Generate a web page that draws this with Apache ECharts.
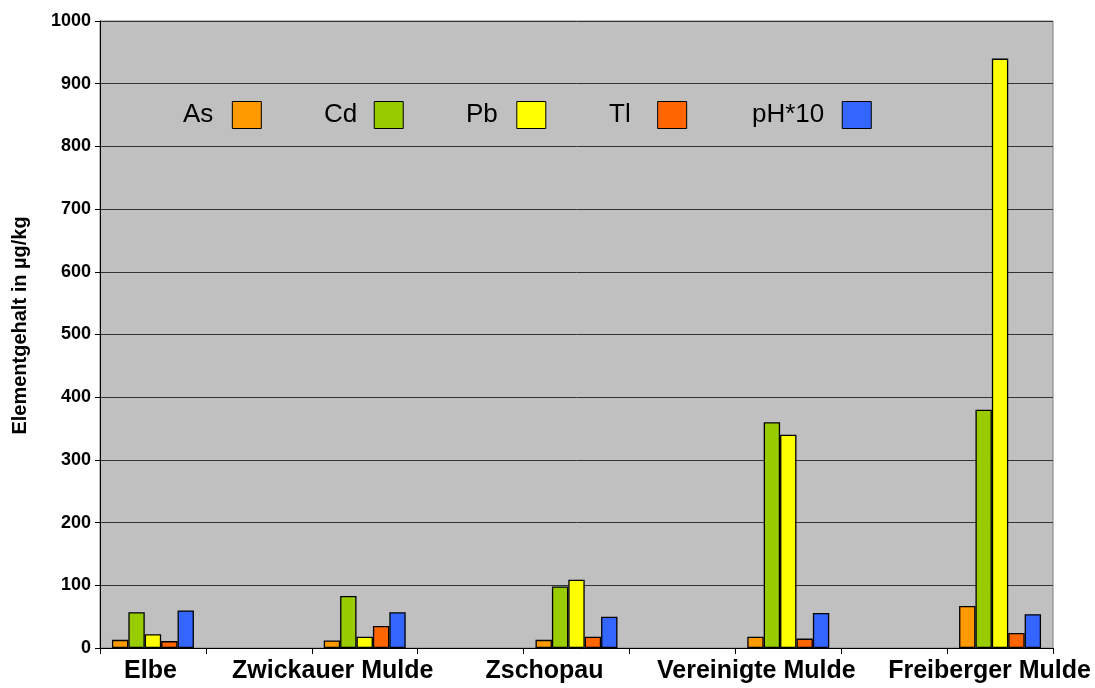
<!DOCTYPE html>
<html>
<head>
<meta charset="utf-8">
<script src="https://cdn.jsdelivr.net/npm/echarts@6/dist/echarts.min.js"></script>
<style>
  html, body { margin: 0; padding: 0; background: #fff; }
  #chart { width: 1095px; height: 688px; }
</style>
</head>
<body>
<div id="chart"></div>
<script>
// Sampling sites (empty slots keep the spacing between the groups)
const categories = ['Elbe', '', 'Zwickauer Mulde', '', 'Zschopau', '', 'Vereinigte Mulde', '', 'Freiberger Mulde'];

// Element contents in µg/kg per site (null = empty slot)
const asValues = [13, null, 12, null, 13, null, 18, null, 67];
const cdValues = [57, null, 83, null, 98, null, 360, null, 380];
const pbValues = [22, null, 18, null, 109, null, 340, null, 940];
const tlValues = [11, null, 35, null, 18, null, 15, null, 24];
const phValues = [60, null, 57, null, 50, null, 56, null, 54];

const yTicks = { min: 0, max: 1000, step: 100 };

const FONT = 'Liberation Sans, Arial, sans-serif';

const seriesDefs = [
  { name: 'As', data: asValues, color: '#FF9900', legendLeft: 183, keyGap: 14 },
  { name: 'Cd', data: cdValues, color: '#99CC00', legendLeft: 324, keyGap: 12 },
  { name: 'Pb', data: pbValues, color: '#FFFF00', legendLeft: 466, keyGap: 14 },
  { name: 'Tl', data: tlValues, color: '#FF6600', legendLeft: 609, keyGap: 22 },
  { name: 'pH*10', data: phValues, color: '#3366FF', legendLeft: 752, keyGap: 13 }
];

// label style per category: long names sit a bit left of their group
const labelStyleKey = ['a', 'a', 'b', 'a', 'b', 'a', 'b', 'a', 'c'];

const chart = echarts.init(document.getElementById('chart'), null, { renderer: 'canvas' });

const labelRich = (padRight) => ({
  fontFamily: FONT, fontWeight: 'bold', fontSize: 25, color: '#000', padding: [0, padRight, 0, 0]
});

const option = {
  animation: false,
  backgroundColor: '#ffffff',
  textStyle: { fontFamily: FONT },
  grid: {
    left: 100, right: 42, top: 21, bottom: 40,
    show: true, backgroundColor: '#C0C0C0', borderColor: '#808080', borderWidth: 1
  },
  legend: seriesDefs.map(s => ({
    data: [s.name],
    left: s.legendLeft,
    top: 101,
    padding: 0,
    align: 'right',
    itemWidth: 29,
    itemHeight: 27,
    icon: 'rect',
    selectedMode: false,
    itemStyle: { borderColor: '#000', borderWidth: 1 },
    textStyle: { fontFamily: FONT, fontSize: 26, color: '#000', padding: [0, s.keyGap, 0, 0] }
  })),
  xAxis: {
    type: 'category',
    data: categories,
    boundaryGap: true,
    axisLine: { lineStyle: { color: '#000', width: 1 } },
    axisTick: { show: true, alignWithLabel: false, length: 6, interval: 0, lineStyle: { color: '#000' } },
    axisLabel: {
      interval: 0,
      margin: 11,
      formatter: (v, i) => v ? '{' + labelStyleKey[i] + '|' + v + '}' : '',
      rich: { a: labelRich(5), b: labelRich(64), c: labelRich(21) }
    },
    splitLine: { show: false }
  },
  yAxis: {
    type: 'value',
    min: yTicks.min,
    max: yTicks.max,
    interval: yTicks.step,
    name: 'Elementgehalt in µg/kg',
    nameLocation: 'middle',
    nameGap: 70,
    nameTextStyle: { fontFamily: FONT, fontWeight: 'bold', fontSize: 20, color: '#000', padding: [0, 0, 0, 18] },
    axisLine: { show: true, lineStyle: { color: '#000', width: 1 } },
    axisTick: { show: true, length: 5, lineStyle: { color: '#000' } },
    axisLabel: {
      fontFamily: FONT, fontWeight: 'bold', fontSize: 18, color: '#000', margin: 9,
      formatter: v => String(v)
    },
    splitLine: { show: true, lineStyle: { color: '#333', width: 1 } }
  },
  series: seriesDefs.map(s => ({
    name: s.name,
    type: 'bar',
    data: s.data,
    barGap: '0%',
    barCategoryGap: '22.6%',
    itemStyle: { color: s.color, borderColor: '#000', borderWidth: 1.3 }
  }))
};

chart.setOption(option);
</script>
</body>
</html>
